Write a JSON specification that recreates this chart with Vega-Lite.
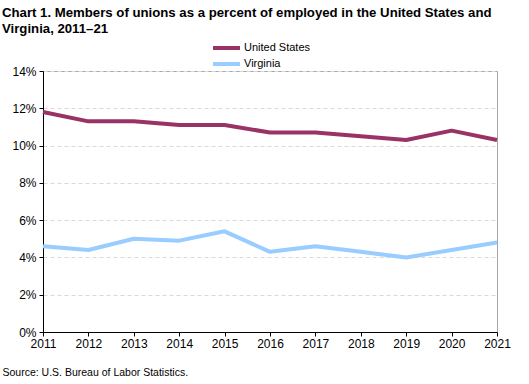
{
  "$schema": "https://vega.github.io/schema/vega-lite/v6.json",
  "autosize": {"type": "none"},
  "width": 454,
  "height": 261,
  "padding": {"left": 43, "top": 71, "right": 32, "bottom": 52},
  "background": "white",
  "title": {
    "text": ["Chart 1. Members of unions as a percent of employed in the United  States and", "Virginia, 2011–21"],
    "anchor": "start",
    "frame": "bounds",
    "font": "Liberation Sans",
    "fontSize": 13.2,
    "fontWeight": "bold",
    "color": "#000000",
    "lineHeight": 16,
    "offset": 4
  },
  "config": {
    "view": {"stroke": "#a6a6a6", "strokeWidth": 1},
    "font": "Liberation Sans"
  },
  "data": {
    "values": [
      {"year": 2011, "series": "United States", "value": 11.8},
      {"year": 2012, "series": "United States", "value": 11.3},
      {"year": 2013, "series": "United States", "value": 11.3},
      {"year": 2014, "series": "United States", "value": 11.1},
      {"year": 2015, "series": "United States", "value": 11.1},
      {"year": 2016, "series": "United States", "value": 10.7},
      {"year": 2017, "series": "United States", "value": 10.7},
      {"year": 2018, "series": "United States", "value": 10.5},
      {"year": 2019, "series": "United States", "value": 10.3},
      {"year": 2020, "series": "United States", "value": 10.8},
      {"year": 2021, "series": "United States", "value": 10.3},
      {"year": 2011, "series": "Virginia", "value": 4.6},
      {"year": 2012, "series": "Virginia", "value": 4.4},
      {"year": 2013, "series": "Virginia", "value": 5.0},
      {"year": 2014, "series": "Virginia", "value": 4.9},
      {"year": 2015, "series": "Virginia", "value": 5.4},
      {"year": 2016, "series": "Virginia", "value": 4.3},
      {"year": 2017, "series": "Virginia", "value": 4.6},
      {"year": 2018, "series": "Virginia", "value": 4.3},
      {"year": 2019, "series": "Virginia", "value": 4.0},
      {"year": 2020, "series": "Virginia", "value": 4.4},
      {"year": 2021, "series": "Virginia", "value": 4.8}
    ]
  },
  "mark": {"type": "line", "strokeWidth": 4, "strokeJoin": "round"},
  "encoding": {
    "x": {
      "field": "year",
      "type": "quantitative",
      "scale": {"domain": [2011, 2021], "nice": false, "zero": false},
      "axis": {
        "values": [2011, 2012, 2013, 2014, 2015, 2016, 2017, 2018, 2019, 2020, 2021],
        "format": "d",
        "grid": false,
        "domainColor": "#000000",
        "tickColor": "#000000",
        "tickSize": 4,
        "labelFontSize": 12,
        "labelColor": "#000000",
        "labelPadding": 2,
        "labelFlush": false,
        "title": "Source: U.S. Bureau of Labor Statistics.",
        "titleFontSize": 10.5,
        "titleFontWeight": "normal",
        "titleColor": "#000000",
        "titleAnchor": "start",
        "titleAlign": "left",
        "titleBaseline": "alphabetic",
        "titleX": -41,
        "titleY": 43
      }
    },
    "y": {
      "field": "value",
      "type": "quantitative",
      "scale": {"domain": [0, 14], "nice": false},
      "axis": {
        "values": [0, 2, 4, 6, 8, 10, 12, 14],
        "labelExpr": "datum.value + '%'",
        "grid": true,
        "gridColor": "#d9d9d9",
        "gridDash": [4, 3],
        "domainColor": "#000000",
        "tickColor": "#000000",
        "tickSize": 4,
        "labelFontSize": 12,
        "labelColor": "#000000",
        "labelPadding": 3,
        "title": null
      }
    },
    "color": {
      "field": "series",
      "type": "nominal",
      "scale": {"domain": ["United States", "Virginia"], "range": ["#993366", "#99ccff"]},
      "legend": {
        "title": null,
        "orient": "none",
        "legendX": 168,
        "legendY": -31,
        "direction": "vertical",
        "symbolType": "stroke",
        "symbolSize": 729,
        "symbolStrokeWidth": 4,
        "clipHeight": 16,
        "rowPadding": 0,
        "labelFontSize": 11,
        "labelColor": "#000000",
        "labelOffset": 2
      }
    }
  }
}
